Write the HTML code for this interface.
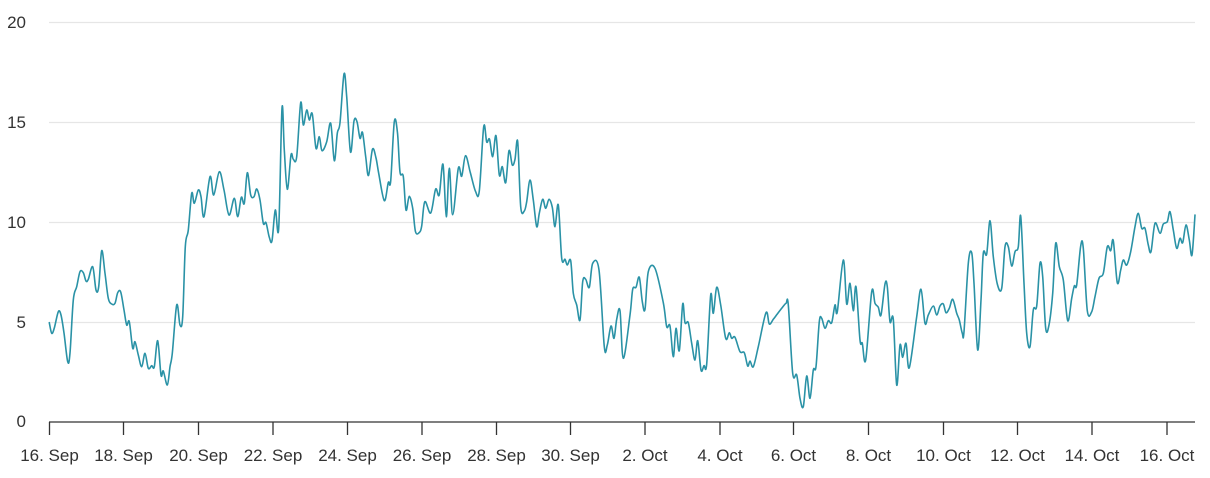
<!DOCTYPE html>
<html>
<head>
<meta charset="utf-8">
<style>
html,body{margin:0;padding:0;background:#fff;}
svg{display:block;}
text{font-family:"Liberation Sans",Arial,sans-serif;font-size:17px;fill:#333;}
</style>
</head>
<body>
<svg id="c" width="1210" height="478" viewBox="0 0 1210 478" xmlns="http://www.w3.org/2000/svg">
<g stroke="#e6e6e6" stroke-width="1.2">
<line x1="49" y1="22.5" x2="1195" y2="22.5"/>
<line x1="49" y1="122.5" x2="1195" y2="122.5"/>
<line x1="49" y1="222.5" x2="1195" y2="222.5"/>
<line x1="49" y1="322.5" x2="1195" y2="322.5"/>
</g>
<g text-anchor="end">
<text x="26" y="28">20</text>
<text x="26" y="128">15</text>
<text x="26" y="228">10</text>
<text x="26" y="328">5</text>
<text x="26" y="427">0</text>
</g>
<polyline id="ser" fill="none" stroke="#2a92a6" stroke-width="1.6" stroke-linejoin="round" stroke-linecap="round" points="
49.3,322.7 51.7,333.3 54.3,328 58.3,311.7 61,315 64,333 67.7,361.7 70,353 73.3,300 76.7,286.7 80,271.7 83.3,272.7 86,281 88.3,279.3 92.7,266.7 96,290 98.7,286.7 101.7,250.7 105,273.3 108.3,298.3 111.7,304 115,303.3 117.7,292.7 120.7,292 124,310 126.7,325 129.3,321.7 132.7,348.3 135,341.7 138.3,355 141.7,366.7 145,353.3 148.3,368.3 151.7,365.7 154.3,366.7 157.7,340.7 161,375 163.3,371 167.3,385 170,366.7 172.3,353.3 176.7,305 180,325 182.7,316.7 185.3,246.7 188.3,230 191.7,193.3 194.3,203.3 198.3,190 201,196.7 204,216.7 210,176.7 213.7,195 219.3,171.7 224,190 229,215 234.3,198.3 237.7,216.7 241.3,197.3 244.3,203.3 247.3,172.7 250.7,195 254,196.7 256.7,189 260,200 263.3,223.3 266,222.7 269.3,237.3 272,240.7 275.3,210 278.7,228.3 282,108.3 284.3,150 287.3,189.3 291,155 293.3,159.3 296.7,156.7 300.7,102.7 303.3,125 306.7,110 309.3,120 312.3,114 316,148.3 319.3,136.7 322,150.7 326.7,141.7 330.7,123.3 334.3,160.7 337.3,133.3 340,122.7 344,74 346.7,96.7 350.5,152 354,121 357,121.7 360,138.3 362.5,132.5 365.7,156.7 368.5,175.5 372.5,149.2 376,158 378.7,173.3 384.3,200.7 388.3,182.5 390.7,181 394.3,121.7 397.5,133 400,172 403.3,176.5 406,210 409.2,196.3 412.7,208.3 415.5,231.7 419.3,232.5 421.7,226 424.8,201.7 430.7,213 435.6,189.2 439.2,195 443,164.3 446.3,216.7 449.3,168.3 452.7,214.7 458.3,168.3 461.7,176.2 465.5,155.7 470.3,172.5 475.5,191.3 479.3,191 483.7,126.7 486.7,142 489.5,139.2 492.7,156.7 496,135.7 499.3,175 502.3,166.7 505.7,182.7 509,150.7 512.3,165 515,159.3 517.7,141.7 520.7,206.7 524.3,211 526.7,201.7 530,180 533.3,200 536.7,226.7 539.3,213.3 542.7,199.3 545.7,208.3 549,199.3 552.3,207.3 555,226.7 558.3,205 561.7,258.3 565,259.3 567.3,265 570.7,260.7 573.3,293.3 576.7,305 580,320 582.7,281.7 585.7,279.3 589.3,287.3 592.7,263.3 599,270 604.3,346.7 607.3,345 611,326 614,338.3 616.7,319.3 620,310.7 623.3,358.3 630,315 632.7,289.3 636,287.3 639.3,277.3 642.3,301.7 645,309.3 648.3,271.7 655,268.3 663.3,302.7 666.7,326.7 670,326 673.3,356.7 676,328.3 679.3,350.7 682.7,304 685,322.7 688.3,322.7 691.7,343.3 695,360 697.7,340.7 701,370 704,365.7 706.7,364 710.7,295 713.3,313.3 716.7,287.3 720.7,305 725.7,338.3 729.3,332.7 731.7,338.3 735,337.3 740,351.7 744.3,352.7 747.7,366 750,361 753.3,366.7 758.3,346.7 766,312.7 769.3,324 773.3,319.3 777.3,314 781.7,308.3 786,303.3 788.3,305 792.7,373.3 796.7,375 800,398.3 803.3,406.7 806.7,376 810,398.3 813.3,370 816,366.7 819.3,321.7 821.7,318.3 825,328.3 828.3,320.7 831.7,322.7 835,305 837.3,311.7 843.3,260 846.7,304 850,283.3 853.3,310.7 856,286.7 860,340 862.3,343.3 865.7,360 871.7,291.7 875,303.3 878.3,307.3 881,315 885,284 887.3,286.7 890,321.7 893.3,319.3 896.7,385 900,345 902.7,357.3 906,343.3 909.3,367.7 916.7,316.7 921,289.3 925,323.3 928.3,315 933.3,306 936.7,315 940,306 943.3,304 946,312.7 949.3,308.3 952.7,299.3 956.7,313.3 959.3,320 962.3,333.3 964,331.7 968.3,263.3 971.7,252.7 974,283.3 977.7,350 981,300 983.3,253.3 986.7,254 990,220.7 993.3,256.7 997.3,284 1001.7,288.3 1005,246.7 1008.3,246.7 1011.7,266 1015,251.7 1018.3,246.7 1020.7,216 1024,283.3 1026.7,333.3 1030,346.7 1033.3,310 1036.7,306 1040,263.3 1042.7,276.7 1045.7,328.3 1049,325 1052.7,293.3 1055.7,243.3 1059.3,266.7 1063.3,280 1067.7,320.7 1071.7,298.3 1074.3,286 1076.7,285 1080.7,246 1083.3,248.3 1087.3,310.7 1091.7,311.7 1095,296.7 1099,278.3 1103.3,273.3 1107.3,246.7 1110.7,250.7 1113.3,240.7 1117.3,282.7 1120.7,270 1123.3,260 1126.7,265 1130.7,251.7 1135,226.7 1138.3,213.3 1141.7,228.3 1145,228.3 1148.3,245 1151,251.7 1155,223.3 1160,233.3 1163.3,224 1167.3,221.7 1170,211.7 1173.3,230 1176.7,248.3 1180,238.3 1182.7,242.7 1186,225 1189.3,240 1192,255 1195,215
"/>
<g stroke="#333" stroke-width="1.3" fill="none">
<line x1="49" y1="422" x2="1195" y2="422"/>
<line x1="49.5" y1="422" x2="49.5" y2="435"/>
<line x1="123.5" y1="422" x2="123.5" y2="435"/>
<line x1="198.5" y1="422" x2="198.5" y2="435"/>
<line x1="273" y1="422" x2="273" y2="435"/>
<line x1="347.5" y1="422" x2="347.5" y2="435"/>
<line x1="422" y1="422" x2="422" y2="435"/>
<line x1="496.5" y1="422" x2="496.5" y2="435"/>
<line x1="570.5" y1="422" x2="570.5" y2="435"/>
<line x1="645" y1="422" x2="645" y2="435"/>
<line x1="720" y1="422" x2="720" y2="435"/>
<line x1="793.5" y1="422" x2="793.5" y2="435"/>
<line x1="868.5" y1="422" x2="868.5" y2="435"/>
<line x1="943.5" y1="422" x2="943.5" y2="435"/>
<line x1="1017.5" y1="422" x2="1017.5" y2="435"/>
<line x1="1092" y1="422" x2="1092" y2="435"/>
<line x1="1167" y1="422" x2="1167" y2="435"/>
</g>
<g text-anchor="middle">
<text x="49.5" y="461">16. Sep</text>
<text x="123.5" y="461">18. Sep</text>
<text x="198.5" y="461">20. Sep</text>
<text x="273" y="461">22. Sep</text>
<text x="347.5" y="461">24. Sep</text>
<text x="422" y="461">26. Sep</text>
<text x="496.5" y="461">28. Sep</text>
<text x="570.5" y="461">30. Sep</text>
<text x="645" y="461">2. Oct</text>
<text x="720" y="461">4. Oct</text>
<text x="793.5" y="461">6. Oct</text>
<text x="868.5" y="461">8. Oct</text>
<text x="943.5" y="461">10. Oct</text>
<text x="1017.5" y="461">12. Oct</text>
<text x="1092" y="461">14. Oct</text>
<text x="1167" y="461">16. Oct</text>
</g>
</svg>
<script>
(function(){
  var pl=document.getElementById('ser');
  var raw=pl.getAttribute('points').trim().split(/\s+/).map(function(s){var a=s.split(',');return [parseFloat(a[0]),parseFloat(a[1])];});
  var n=raw.length, d='M'+raw[0][0]+','+raw[0][1];
  for(var i=0;i<n-1;i++){
    var p0=raw[Math.max(i-1,0)],p1=raw[i],p2=raw[i+1],p3=raw[Math.min(i+2,n-1)];
    var c1x=p1[0]+(p2[0]-p0[0])/6,c1y=p1[1]+(p2[1]-p0[1])/6;
    var c2x=p2[0]-(p3[0]-p1[0])/6,c2y=p2[1]-(p3[1]-p1[1])/6;
    d+=' C'+c1x.toFixed(2)+','+c1y.toFixed(2)+' '+c2x.toFixed(2)+','+c2y.toFixed(2)+' '+p2[0]+','+p2[1];
  }
  var path=document.createElementNS('http://www.w3.org/2000/svg','path');
  path.setAttribute('d',d);
  path.setAttribute('fill','none');
  path.setAttribute('stroke','#2a92a6');
  path.setAttribute('stroke-width','1.6');
  path.setAttribute('stroke-linejoin','round');
  path.setAttribute('stroke-linecap','round');
  pl.parentNode.replaceChild(path,pl);
})();
</script>
</body>
</html>
